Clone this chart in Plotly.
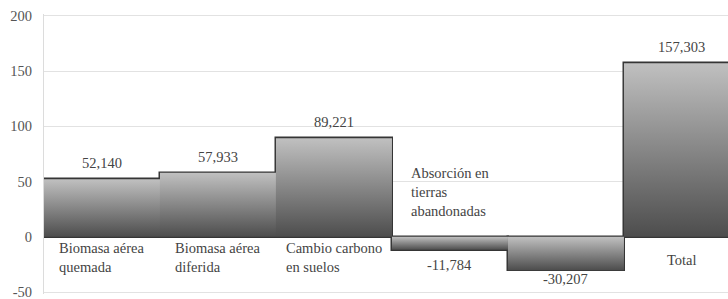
import plotly.graph_objects as go

categories = ["Biomasa aérea<br>quemada", "Biomasa aérea<br>diferida", "Cambio carbono<br>en suelos",
              "Absorción en<br>tierras<br>abandonadas", "", "Total"]
values = [52.140, 57.933, 89.221, -11.784, -30.207, 157.303]
y_ticks = [200, 150, 100, 50, 0, -50]
y_tick_labels = ["200", "150", "100", "50", "0", "-50"]

FONT = "'Liberation Serif', 'Times New Roman', serif"
FS = 14.5
idx = list(range(len(values)))

fig = go.Figure()

# gradient fills built from the values
for i, v in zip(idx, values):
    xs = [i - 0.5, i + 0.5, i + 0.5, i - 0.5, i - 0.5]
    ys = [0, 0, v, v, 0]
    fig.add_trace(go.Scatter(
        x=xs, y=ys, mode="lines", fill="toself", line=dict(width=0),
        fillgradient=dict(type="vertical", colorscale=[[0, "#4d4d4d"], [1, "#c0c0c0"]]),
        hoverinfo="skip", showlegend=False))

fig.add_trace(go.Bar(
    x=idx, y=values, width=1.0,
    marker=dict(color="rgba(0,0,0,0)", line=dict(color="#353535", width=2.5)),
    showlegend=False, cliponaxis=True, hoverinfo="skip"))

# value labels
for i, v in zip(idx, values):
    txt = f"{v:.3f}".replace(".", ",")
    if v > 0:
        shift = 16
    elif v < -20:
        shift = -9
    else:
        shift = -15
    fig.add_annotation(x=i, y=v, text=txt, showarrow=False, yshift=shift,
                       xanchor="center", yanchor="middle",
                       font=dict(family=FONT, size=FS, color="#444"))

# category labels (block centred on the bar, lines left-aligned)
for i, (c, v) in enumerate(zip(categories, values)):
    if not c:
        continue
    if c == "Total":
        fig.add_annotation(x=i, y=0, text=c, showarrow=False, xanchor="center",
                           yanchor="middle", yshift=-23,
                           font=dict(family=FONT, size=FS, color="#444"))
    elif v > 0:
        fig.add_annotation(x=i, y=0, text=c, showarrow=False, xanchor="center",
                           yanchor="top", yshift=-1, align="left",
                           font=dict(family=FONT, size=FS, color="#444"))
    else:
        fig.add_annotation(x=i, y=0, text=c, showarrow=False, xanchor="center",
                           yanchor="bottom", yshift=16, align="left",
                           font=dict(family=FONT, size=FS, color="#444"))

fig.update_layout(
    width=728, height=299,
    margin=dict(l=44, r=0, t=14, b=5),
    plot_bgcolor="white", paper_bgcolor="white",
    bargap=0,
    font=dict(family=FONT),
    xaxis=dict(range=[-0.5, 5.397], showticklabels=False, showgrid=False,
               zeroline=False, showline=False, automargin=False),
    yaxis=dict(range=[-51.8, 201.8], tickvals=y_ticks, ticktext=y_tick_labels,
               showgrid=True, gridcolor="#e2e2e2", gridwidth=1,
               zeroline=True, zerolinecolor="#b0b0b0", zerolinewidth=1,
               showline=True, linecolor="#dcdcdc", linewidth=1,
               ticks="", ticklabelstandoff=8, automargin=False,
               ticklabeloverflow="allow",
               tickfont=dict(family=FONT, size=FS, color="#555")),
)

# remove the default 8px page margin so the figure fills the window exactly
fig.write_html("out.html", config={"displayModeBar": False},
               post_script="document.body.style.margin='0';")
